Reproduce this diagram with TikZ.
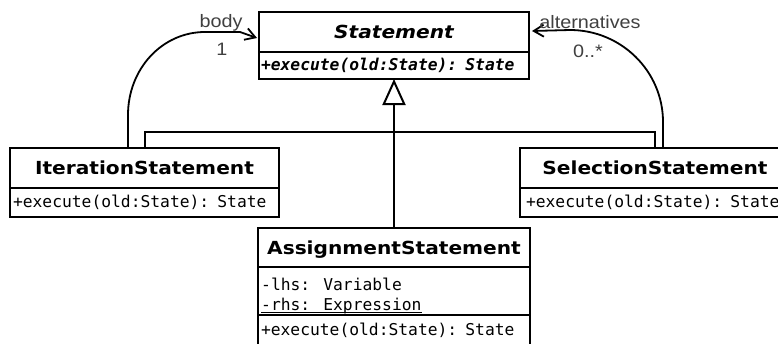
\documentclass[tikz,border=0pt]{standalone}
\usepackage{fontspec}
\setmainfont{DejaVu Sans}
\newfontfamily\titlefont[FakeStretch=1.12,
  BoldFont={DejaVu Sans Bold},
  BoldItalicFont={DejaVu Sans Bold Oblique}]{DejaVu Sans}
\newfontfamily\monofont[
  BoldFont={DejaVu Sans Mono Bold},
  ItalicFont={DejaVu Sans Mono Oblique},
  BoldItalicFont={DejaVu Sans Mono Bold Oblique}]{DejaVu Sans Mono}
\newfontfamily\labelfont[FakeStretch=1.1]{Liberation Sans}
\usetikzlibrary{arrows.meta}

\tikzset{
  box/.style={draw, line width=2pt, anchor=north west, inner sep=0pt, outer sep=0pt},
  classname/.style={box, text height=13pt, text depth=0pt,
    font=\titlefont\bfseries\fontsize{18}{20}\selectfont},
  opsbox/.style={box, align=left, font=\monofont\fontsize{16.3}{20}\selectfont},
  attr/.style={anchor=base west, inner sep=0pt, font=\monofont\fontsize{16.3}{20}\selectfont},
  conn/.style={line width=2pt},
  assoc/.style={line width=1.8pt, -{Straight Barb[length=10pt, width=12pt, line width=1.8pt]}},
  rolelabel/.style={anchor=base, inner sep=0pt, text=black!75,
    font=\labelfont\fontsize{18}{20}\selectfont},
}

\begin{document}
\begin{tikzpicture}[x=1pt, y=-1pt]
  \useasboundingbox (0,0) rectangle (778,343);

  % abstract base class
  \node[classname, minimum width=270pt, minimum height=40pt] (stT) at (259,12) {\itshape Statement};
  \node[opsbox, minimum height=27pt, text width=266pt, inner xsep=2pt,
        font=\monofont\bfseries\itshape\fontsize{16.3}{20}\selectfont]
        (stO) at (stT.south west) {+execute(old:State): State};

  % IterationStatement
  \node[classname, minimum width=269pt, minimum height=40pt] (itT) at (10,148) {IterationStatement};
  \node[opsbox, minimum height=29pt, text width=263pt, inner xsep=3pt]
        (itO) at (itT.south west) {+execute(old:State): State};

  % SelectionStatement
  \node[classname, minimum width=270pt, minimum height=40pt] (seT) at (520,148) {SelectionStatement};
  \node[opsbox, minimum height=29pt, text width=258pt, inner xsep=6pt]
        (seO) at (seT.south west) {+execute(old:State): State};

  % AssignmentStatement
  \node[classname, minimum width=272pt, minimum height=39pt] (asT) at (258,228) {AssignmentStatement};
  \node[box, minimum width=272pt, minimum height=48pt] (asA) at (asT.south west) {};
  \node[opsbox, minimum height=30pt, text width=266pt, inner xsep=3pt]
        (asO) at (asA.south west) {+execute(old:State): State};
  \node[attr] (lhs) at (261,290) {-lhs: Variable};
  \node[attr] (rhs) at (261,310) {-rhs: Expression};
  \draw[line width=1.2pt] ([yshift=-2.6pt]rhs.base west) -- ([yshift=-2.6pt]rhs.base east);

  % generalization
  \coordinate (jn) at (asT.north |- 0,132);
  \draw[conn] (itT.north) |- (jn) -| (seT.north);
  \draw[conn, -{Triangle[open, length=26pt, width=23pt, line width=2pt]}] (asT.north) -- (stO.south);

  % associations
  \coordinate (bodyS) at ([xshift=118pt]itT.north west);
  \coordinate (bodyE) at (257,38);
  \draw[assoc] (bodyS) -- ++(0,-33) .. controls +(0,-46) and +(-43,0) .. ++(77,-83)
        -- ++(35,0) -- (bodyE);

  \coordinate (altS) at ([xshift=8pt]seT.north);
  \coordinate (altE) at (532,31);
  \draw[assoc] (altS) -- ++(0,-26) .. controls +(0,-51) and +(51,0) .. ++(-93,-92) -- (altE);

  % role names and multiplicities
  \node[rolelabel] (bodyL) at (221,27) {body};
  \node[rolelabel] (bodyM) at (222,55) {1};
  \node[rolelabel] (altL) at (590,28) {alternatives};
  \node[rolelabel] (altM) at (588,57) {0..*};
\end{tikzpicture}
\end{document}
